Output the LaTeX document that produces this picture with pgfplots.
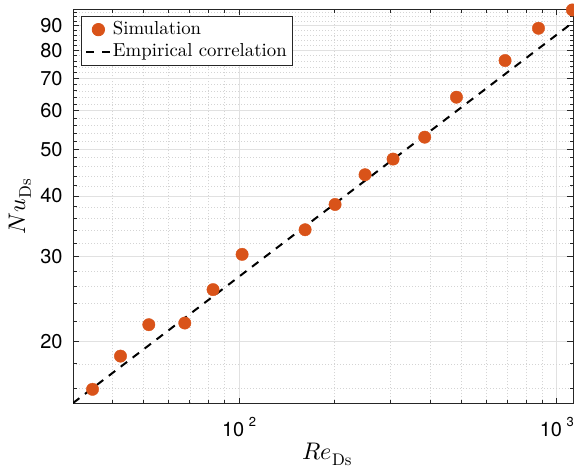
\documentclass[border=0pt]{standalone}
\usepackage{fontspec}
\usepackage{unicode-math}
\setmainfont{lmroman10-regular.otf}[BoldFont=lmroman10-bold.otf, ItalicFont=lmroman10-italic.otf]
\setmathfont{Latin Modern Math}
\usepackage{pgfplots}
\pgfplotsset{compat=1.18}
\newfontfamily\heros{TeX Gyre Heros}
\definecolor{simcol}{RGB}{217,83,25}
\definecolor{axcol}{RGB}{38,38,38}
\definecolor{majgrid}{RGB}{225,225,225}
\definecolor{mingrid}{RGB}{212,212,212}
\pgfplotsset{
  simleg/.style={legend image code/.code={\draw[mark repeat=2, mark phase=2, ##1] plot coordinates {(0pt,0pt) (12pt,0pt) (24pt,0pt)};}},
  lineleg/.style={legend image code/.code={\draw[##1, dash pattern=on 8pt off 8pt] (0pt,0pt) -- (24pt,0pt);}},
}
\begin{document}
\begin{tikzpicture}
\begin{axis}[
  at={(0,0)}, anchor=south west,
  scale only axis, width=500pt, height=394.2pt,
  xmode=log, ymode=log,
  xmin=30, xmax=1125, ymin=14.9, ymax=97.3,
  xtick={100,1000},
  xticklabels={{10\hspace{4.5pt}\raisebox{10pt}{\fontsize{13}{13}\selectfont 2}},{10\hspace{4.5pt}\raisebox{10pt}{\fontsize{13}{13}\selectfont 3}}},
  minor xtick={40,50,60,70,80,90,200,300,400,500,600,700,800,900},
  ytick={20,30,40,50,60,70,80,90},
  yticklabels={20,30,40,50,60,70,80,90},
  minor ytick={16,18,22,24,26,28,32,34,36,38,42,44,46,48,52,54,56,58,62,64,66,68,72,74,76,78,82,84,86,88,92,94,96},
  grid=both,
  major grid style={majgrid, line width=0.8pt},
  minor grid style={mingrid, line width=0.5pt, dash pattern=on 1pt off 2pt},
  axis line style={axcol, line width=1pt},
  tick style={axcol, line width=0.8pt},
  tick align=inside,
  major tick length=6pt, minor tick length=3.5pt,
  ticklabel style={font=\heros\fontsize{20}{24}\selectfont, text=black},
  yticklabel style={inner sep=0pt, xshift=-10.3pt},
  xticklabel style={inner sep=0pt, yshift=-13.2pt},
  xlabel={$Re_{\mathrm{Ds}}$}, ylabel={$Nu_{\mathrm{Ds}}$},
  label style={font=\fontsize{24}{28}\selectfont},
  xlabel style={at={(axis description cs:0.5,0)}, anchor=base, yshift=-55.8pt, xshift=4pt},
  ylabel style={at={([xshift=-48pt]axis description cs:0,0.5)}, anchor=base},
  legend style={at={(axis description cs:0,1)}, anchor=north west, xshift=7.7pt, yshift=-6.7pt,
    draw=axcol, line width=0.8pt, fill=white, inner xsep=4.3pt, inner ysep=4.1pt,
    row sep=4.1pt, column sep=0pt,
    font=\fontsize{18.8}{22}\selectfont,
    nodes={inner xsep=1.5pt, inner ysep=0pt, text height=13.7pt, text depth=4.6pt}},
  legend cell align=left,
]
\addplot[only marks, mark=*, mark size=6.2pt, color=simcol, simleg]
coordinates {
(34.56,15.94) (42.33,18.67) (51.97,21.68) (67.47,21.85) (82.8,25.62)
(102.2,30.30) (161.4,34.07) (200.5,38.43) (249.2,44.27) (305.3,47.69)
(384.1,52.93) (483.4,64.03) (687.6,76.24) (875.9,88.89) (1120,97.0)
};
\addlegendentry{Simulation}
\addplot[black, line width=2pt, dash pattern=on 8pt off 7pt, lineleg]
coordinates {(30,14.93) (1125,91.43)};
\addlegendentry{Empirical correlation}
\end{axis}
\pgfresetboundingbox
\path[use as bounding box] (-73pt,-66.5pt) rectangle (501pt,403.5pt);
\end{tikzpicture}
\end{document}
